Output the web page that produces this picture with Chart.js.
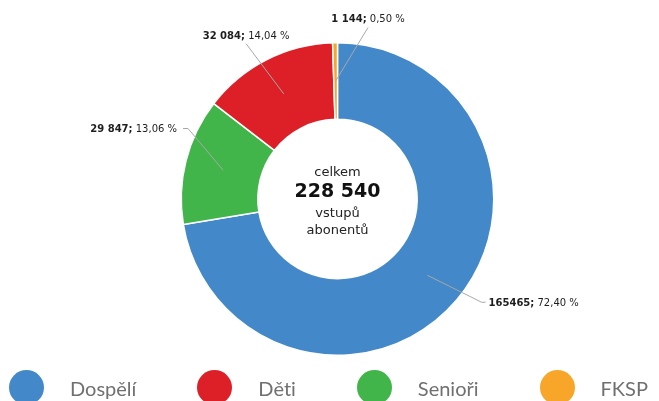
<!DOCTYPE html>
<html>
<head>
<meta charset="utf-8">
<script src="https://cdn.jsdelivr.net/npm/chart.js@4/dist/chart.umd.min.js"></script>
<style>
  body{margin:0;background:#fff;}
  #wrap{position:relative;width:659px;height:401px;overflow:hidden;}
  #legend{position:absolute;left:0;top:370px;width:659px;box-sizing:border-box;padding:0 11px 0 9px;
    display:flex;justify-content:space-between;align-items:center;}
  .item{display:flex;align-items:center;}
  .dot{width:35px;height:35px;border-radius:50%;margin-right:26px;}
  .txt{font-family:Lato,sans-serif;font-weight:400;font-size:20px;color:#707070;
    font-variant-ligatures:none;font-feature-settings:"liga" 0,"clig" 0,"dlig" 0,"calt" 0;}
</style>
</head>
<body>
<div id="wrap">
  <canvas id="chart" width="659" height="401"></canvas>
  <div id="legend"></div>
</div>
<script>
// ---------- DATA ----------
const categories = ['Dospělí','Děti','Senioři','FKSP'];
const values = [165465, 32084, 29847, 1144];
const valueLabels = ['165465','32 084','29 847','1 144'];
const colors = ['#4388c8','#dd2027','#42b54a','#f8a62a'];
const sliceOrder = [0, 2, 1, 3];   // clockwise from the top
const centerLines = ['celkem', '228 540', 'vstupů', 'abonentů'];

// leader line placement per slice (degrees nudge, extra radius, where text goes)
const labelPlace = [
  {nudge:-4.7, ext:21, side:'right'},
  {nudge:-3.4, ext:24, side:'top'},
  {nudge:11.1, ext:9,  side:'left'},
  {nudge:11,   ext:18, side:'top'}
];

const total = values.reduce((a,b)=>a+b,0);
const pct = v => (v/total*100).toFixed(2).replace('.',',') + ' %';

// ---------- PLUGIN: outside labels + center text ----------
const labelsPlugin = {
  id:'outLabels',
  afterDatasetsDraw(chart){
    const ctx = chart.ctx;
    const arcs = chart.getDatasetMeta(0).data;
    ctx.save();
    arcs.forEach((arc,i)=>{
      const k = sliceOrder[i];
      const p = labelPlace[k];
      const mid = (arc.startAngle + arc.endAngle)/2;
      const rMid = (arc.innerRadius + arc.outerRadius)/2;
      const sx = arc.x + Math.cos(mid)*rMid, sy = arc.y + Math.sin(mid)*rMid;
      const a2 = mid + p.nudge*Math.PI/180, r2 = arc.outerRadius + p.ext;
      const ex = arc.x + Math.cos(a2)*r2, ey = arc.y + Math.sin(a2)*r2;
      ctx.strokeStyle = '#a8a8a8';
      ctx.lineWidth = 1;
      ctx.beginPath();
      ctx.moveTo(sx,sy);
      ctx.lineTo(ex,ey);
      let hx = ex;
      if(p.side==='right') hx = ex + 4;
      if(p.side==='left') hx = ex - 5;
      ctx.lineTo(hx,ey);
      ctx.stroke();

      const bold = valueLabels[k] + ';';
      const rest = ' ' + pct(values[k]);
      ctx.font = 'bold 10px "DejaVu Sans"';
      const wb = ctx.measureText(bold).width;
      ctx.font = '10px "DejaVu Sans"';
      const wr = ctx.measureText(rest).width;
      let tx, ty;
      if(p.side==='right'){ tx = hx + 3; ty = ey + 3.7; }
      else if(p.side==='left'){ tx = hx - 6 - wb - wr; ty = ey + 3.7; }
      else { tx = ex - (wb+wr)/2; ty = ey - 5; }
      ctx.fillStyle = '#1e1e1e';
      ctx.textBaseline = 'alphabetic';
      ctx.textAlign = 'left';
      ctx.font = 'bold 10px "DejaVu Sans"';
      ctx.fillText(bold, tx, ty);
      ctx.font = '10px "DejaVu Sans"';
      ctx.fillText(rest, tx + wb, ty);
    });

    const cx = arcs[0].x, cy = arcs[0].y;
    ctx.textAlign = 'center';
    ctx.fillStyle = '#222';
    ctx.font = '13px "DejaVu Sans"';
    ctx.fillText(centerLines[0], cx, cy - 23.5);
    ctx.fillStyle = '#111';
    ctx.font = 'bold 19px "DejaVu Sans"';
    ctx.fillText(centerLines[1], cx, cy - 1.8);
    ctx.fillStyle = '#222';
    ctx.font = '13px "DejaVu Sans"';
    ctx.fillText(centerLines[2], cx, cy + 17.5);
    ctx.fillText(centerLines[3], cx, cy + 34.8);
    ctx.restore();
  }
};

// ---------- CHART ----------
const ctx = document.getElementById('chart').getContext('2d');
const chart = new Chart(ctx,{
  type:'doughnut',
  data:{
    labels: sliceOrder.map(i=>categories[i]),
    datasets:[{
      data: sliceOrder.map(i=>values[i]),
      backgroundColor: sliceOrder.map(i=>colors[i]),
      borderColor:'#fff',
      borderWidth:1.5,
      hoverOffset:0
    }]
  },
  options:{
    responsive:false,
    animation:false,
    cutout:'51%',
    layout:{padding:{left:100, right:84, top:42, bottom:45}},
    plugins:{legend:{display:false}, tooltip:{enabled:false}}
  },
  plugins:[labelsPlugin]
});

// ---------- LEGEND ----------
const legend = document.getElementById('legend');
categories.forEach((c,i)=>{
  const it = document.createElement('div');
  it.className = 'item';
  it.innerHTML = `<span class="dot" style="background:${colors[i]}"></span><span class="txt">${c}</span>`;
  legend.appendChild(it);
});
</script>
</body>
</html>
